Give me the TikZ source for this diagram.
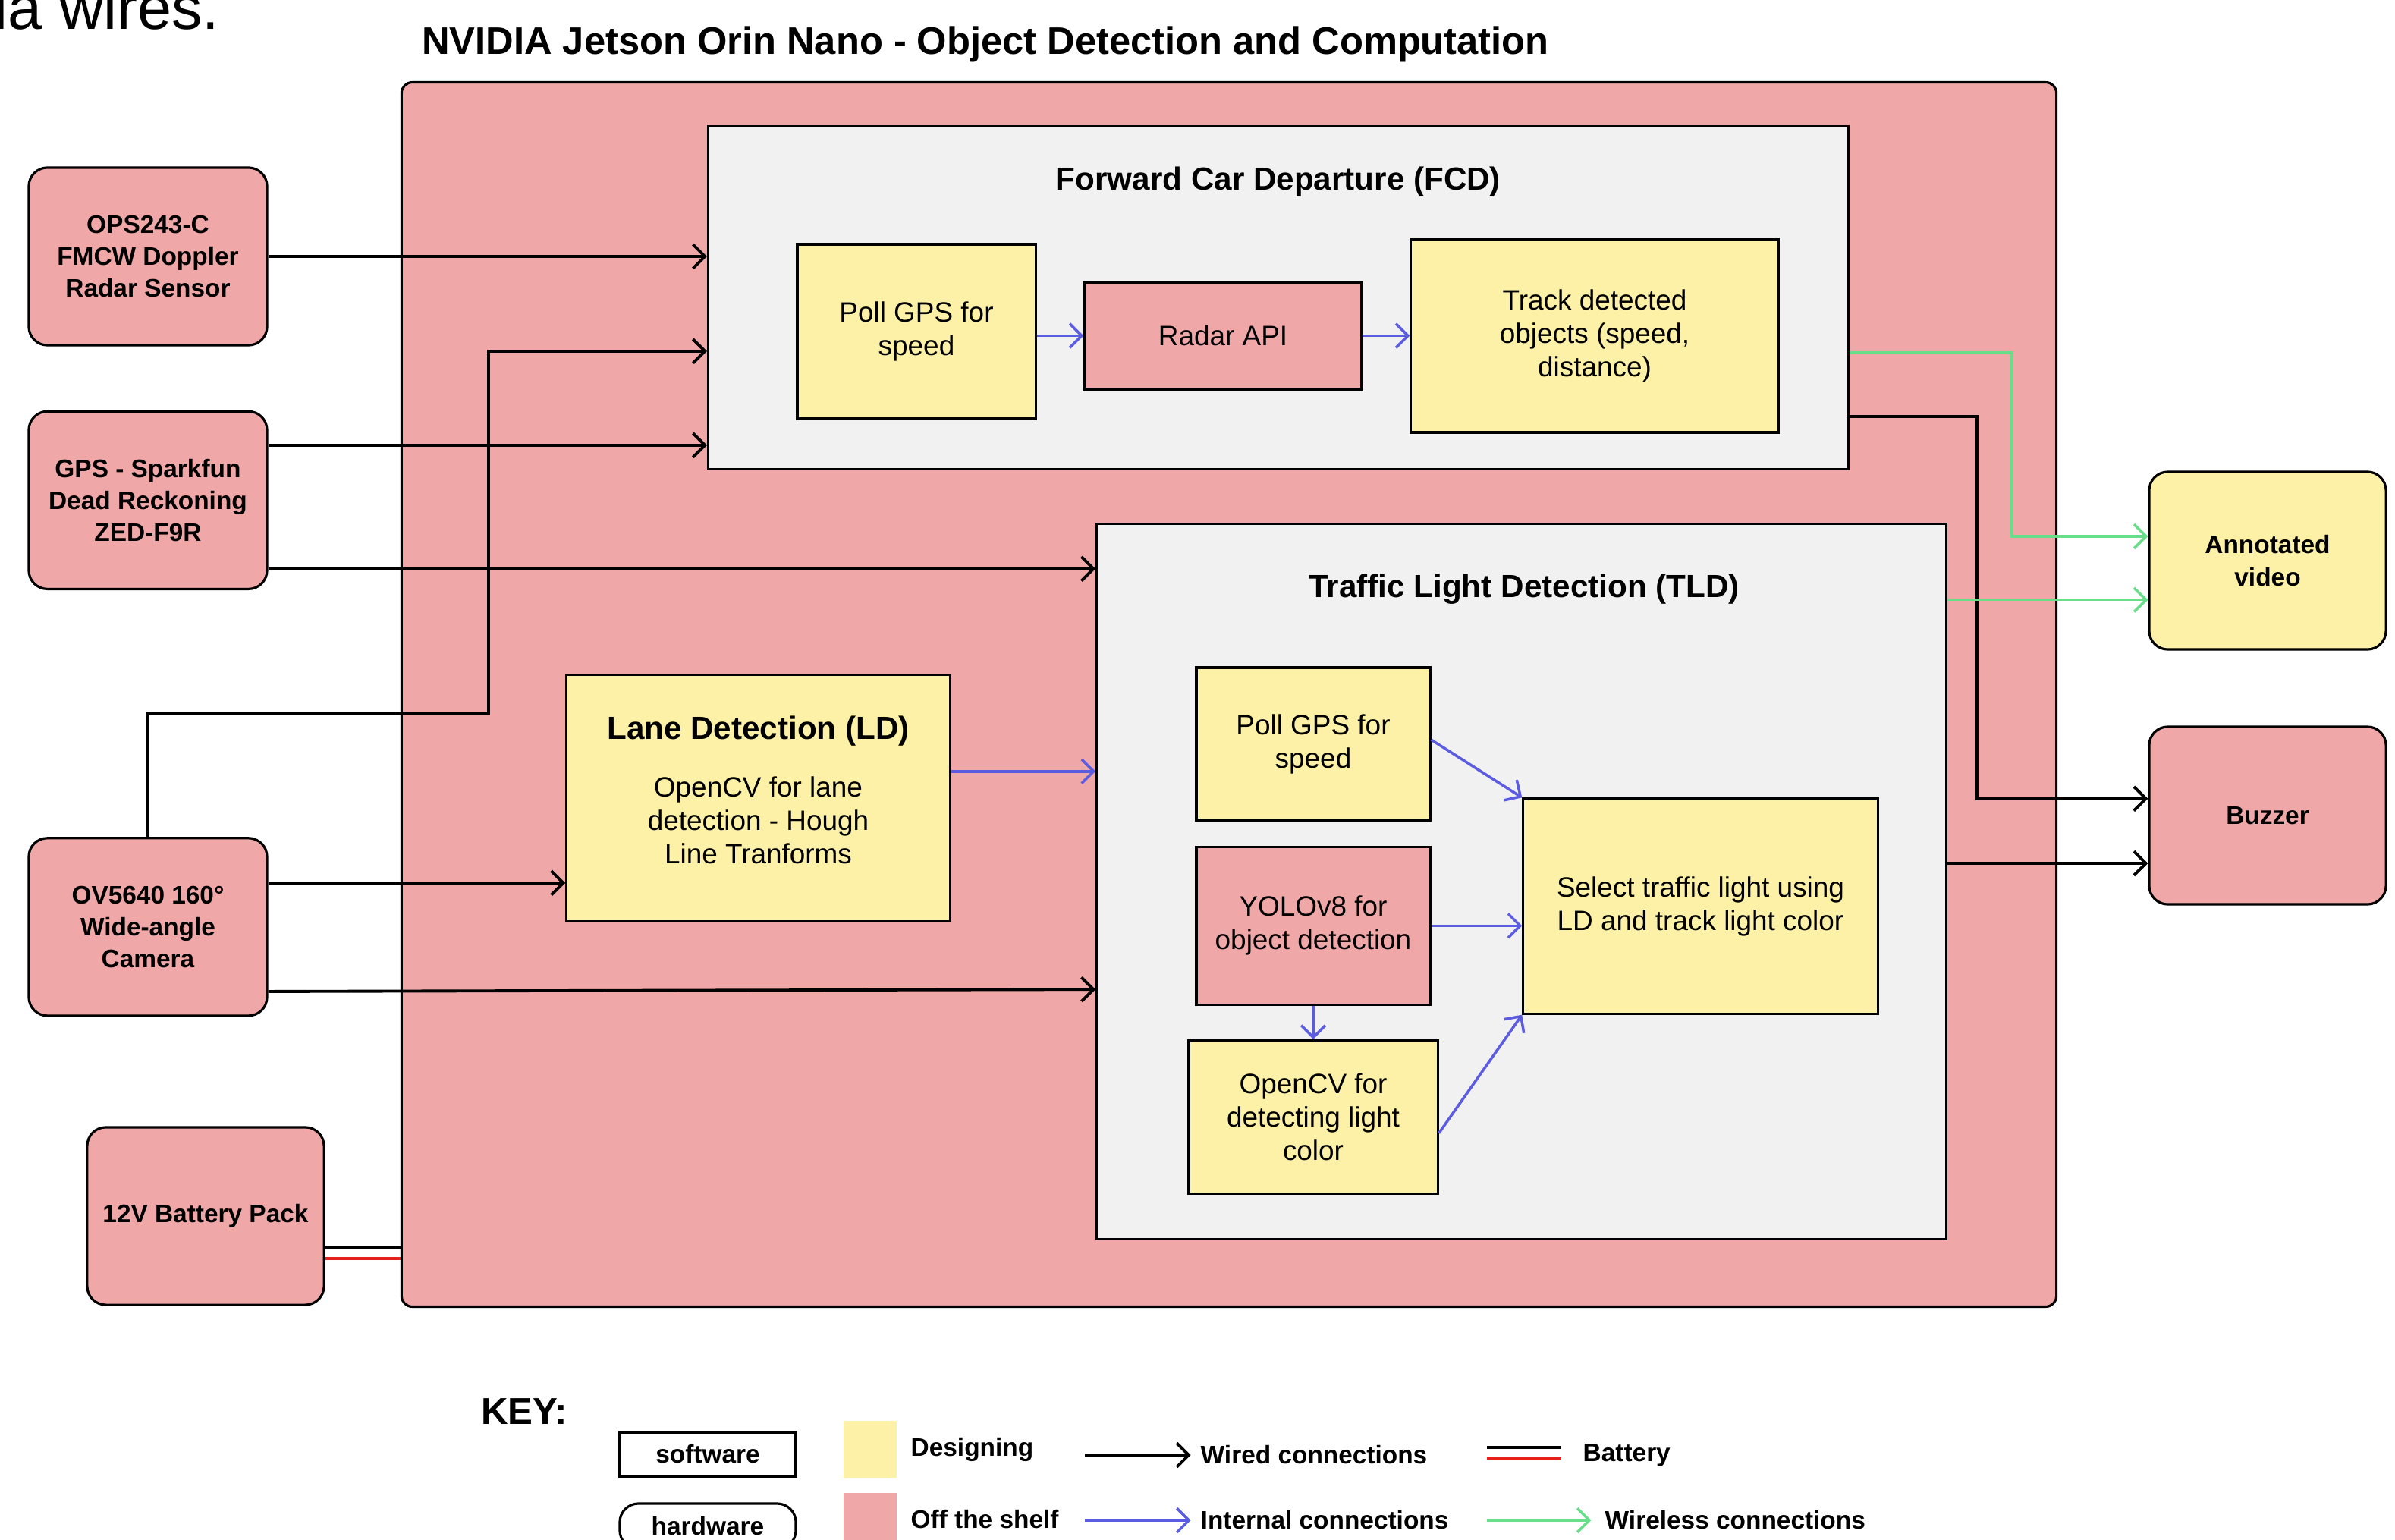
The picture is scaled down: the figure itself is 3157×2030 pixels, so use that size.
\documentclass[tikz,border=0pt]{standalone}
\usepackage{fontspec}
\setmainfont{Liberation Sans}
\usetikzlibrary{arrows.meta, positioning}
\definecolor{offshelf}{RGB}{239,168,167}
\definecolor{designing}{RGB}{253,241,167}
\definecolor{groupgrey}{RGB}{241,241,241}
\definecolor{internalblue}{RGB}{92,92,226}
\definecolor{wirelessgreen}{RGB}{104,222,138}
\definecolor{batteryred}{RGB}{232,32,28}
\tikzset{
  hardware/.style = {draw, line width=0.9pt, fill=offshelf, rounded corners=7pt,
                     align=center, font=\fontsize{9.5}{12}\selectfont\bfseries},
  software/.style = {draw, line width=0.9pt, fill=designing, align=center,
                     font=\fontsize{10.5}{12.5}\selectfont},
  bought/.style = {software, fill=offshelf},
  group/.style = {draw, line width=0.9pt, fill=groupgrey},
  group title/.style = {font=\fontsize{12}{14}\selectfont\bfseries},
  wired/.style = {line width=1.1pt, arrows={-Straight Barb[length=4.5pt, width=9pt]}},
  internal/.style = {wired, line width=1pt, internalblue},
  wireless/.style = {wired, line width=1pt, wirelessgreen},
  battery wire/.style = {line width=1pt},
  key text/.style = {anchor=west, inner sep=0pt, font=\fontsize{9.5}{11}\selectfont\bfseries},
}

\begin{document}
\begin{tikzpicture}[x=0.01cm, y=-0.01cm]
  \useasboundingbox (0,0) rectangle (3157,2030);
  \clip (0,0) rectangle (3157,2030);
  \fill [white] (0,0) rectangle (3157,2030);

  %% End of the text above the figure
  \node [anchor=base west, inner sep=0pt, font=\fontsize{23}{27}\selectfont]
        (pagetext) at (-8,38) {ia wires.};

  %% The Jetson board
  \node [draw, line width=0.9pt, fill=offshelf, rounded corners=4pt,
         minimum width=21.8cm, minimum height=16.13cm] (jetson) at (1620,915.5) {};
  \node [font=\fontsize{14.4}{17}\selectfont\bfseries] (title) at (1299,58)
        {NVIDIA Jetson Orin Nano - Object Detection and Computation};

  %% Forward Car Departure
  \node [group, minimum width=15.02cm, minimum height=4.51cm] (fcd) at (1685,392.5) {};
  \node [group title] (fcd_title) at (1685,240) {Forward Car Departure (FCD)};
  \node [software, minimum width=3.14cm, minimum height=2.3cm] (fcd_gps) at (1208,437)
        {Poll GPS for\\speed};
  \node [bought, minimum width=3.64cm, minimum height=1.41cm] (fcd_radar) at (1612,442.5)
        {Radar API};
  \node [software, minimum width=4.84cm, minimum height=2.54cm] (fcd_track) at (2102,443)
        {Track detected\\objects (speed,\\distance)};
  \draw [internal] (fcd_radar.west -| fcd_gps.east) -- (fcd_radar.west);
  \draw [internal] (fcd_radar.east) -- (fcd_radar.east -| fcd_track.west);

  %% Traffic Light Detection
  \node [group, minimum width=11.19cm, minimum height=9.42cm] (tld) at (2005.5,1162) {};
  \node [group title] (tld_title) at (2009,777) {Traffic Light Detection (TLD)};
  \node [software, minimum width=3.08cm, minimum height=2.01cm] (tld_gps) at (1731,980.5)
        {Poll GPS for\\speed};
  \node [bought, minimum width=3.08cm, minimum height=2.08cm, below=0.32cm of tld_gps]
        (tld_yolo) {YOLOv8 for\\object detection};
  \node [software, minimum width=3.28cm, minimum height=2.02cm, below=0.44cm of tld_yolo]
        (tld_color) {OpenCV for\\detecting light\\color};
  \node [software, minimum width=4.67cm, minimum height=2.83cm] (tld_select) at (2241.5,1194.5)
        {Select traffic light using\\LD and track light color};
  \draw [internal] ([yshift=1.5pt]tld_gps.east) -- (tld_select.north west);
  \draw [internal] (tld_yolo.east) -- (tld_yolo.east -| tld_select.west);
  \draw [internal] (tld_yolo) -- (tld_color);
  \draw [internal] ([yshift=-6pt]tld_color.east) -- (tld_select.south west);

  %% Lane Detection
  \node [software, minimum width=5.05cm, minimum height=3.24cm] (ld) at (999.5,1052) {};
  \node [align=center, font=\fontsize{10.5}{12.5}\selectfont, yshift=3pt] (ld_text) at (ld)
        {{\fontsize{12}{14}\selectfont\bfseries Lane Detection (LD)}\\[9pt]
         OpenCV for lane\\detection - Hough\\Line Tranforms};
  \draw [internal] ([yshift=10pt]ld.east) -- ([yshift=10pt]ld.east -| tld.west);

  %% Sensors and power
  \node [hardware, minimum width=3.14cm, minimum height=2.34cm] (radar) at (195,338)
        {OPS243-C\\FMCW Doppler\\Radar Sensor};
  \node [hardware, minimum width=3.14cm, minimum height=2.34cm, below=0.84cm of radar]
        (gps) {GPS - Sparkfun\\Dead Reckoning\\ZED-F9R};
  \node [hardware, minimum width=3.14cm, minimum height=2.34cm, below=3.25cm of gps]
        (camera) {OV5640 160°\\Wide-angle\\Camera};
  \node [hardware, minimum width=3.12cm, minimum height=2.34cm] (battery) at (271,1603)
        {12V Battery Pack};

  %% Outputs
  \node [hardware, fill=designing, minimum width=3.12cm, minimum height=2.34cm] (video)
        at (2989,739) {Annotated\\video};
  \node [hardware, minimum width=3.12cm, minimum height=2.34cm] (buzzer) at (2989,1075)
        {Buzzer};

  %% Inputs into the board
  \draw [wired] (radar.east) -- (radar.east -| fcd.west);
  \draw [wired] ([yshift=20.6pt]gps.east) -- ([yshift=20.6pt]gps.east -| fcd.west);
  \draw [wired] ([yshift=-25.7pt]gps.east) -- ([yshift=-25.7pt]gps.east -| tld.west);
  \coordinate (cam_bend) at (644,940);
  \draw [wired] (camera.north) |- (cam_bend) |- ([yshift=-20pt]fcd.west);
  \draw [wired] ([yshift=16.5pt]camera.east) -- ([yshift=16.5pt]camera.east -| ld.west);
  \draw [wired] ([yshift=-24.2pt]camera.east) -- ([yshift=-23.4pt]camera.east -| tld.west);
  \draw [battery wire] ([yshift=-11.7pt]battery.east) -- ([yshift=-11.7pt]battery.east -| jetson.west);
  \draw [battery wire, batteryred] ([yshift=-15.9pt]battery.east)
        -- ([yshift=-15.9pt]battery.east -| jetson.west);

  %% Outputs from the board
  \draw [wired] ([yshift=-44.5pt]fcd.east) -- ++(168,0) |- ([yshift=6.3pt]buzzer.west);
  \draw [wired] ([yshift=6.8pt]tld.east) -- ([yshift=6.8pt]tld.east -| buzzer.west);
  \draw [wireless] ([yshift=-20.6pt]fcd.east) -- ++(214,0) |- ([yshift=9.1pt]video.west);
  \draw [wireless] ([yshift=105.6pt]tld.east) -- ([yshift=105.6pt]tld.east -| video.west);

  %% Key
  \node [font=\fontsize{14}{16}\selectfont\bfseries] (key) at (691,1861) {KEY:};
  \node [draw, line width=0.9pt, minimum width=2.32cm, minimum height=0.58cm,
         font=\fontsize{9.5}{11}\selectfont\bfseries] (key_sw) at (933,1917) {software};
  \node [draw, line width=0.9pt, rounded corners=7pt, minimum width=2.32cm, minimum height=0.6cm,
         font=\fontsize{9.5}{11}\selectfont\bfseries] (key_hw) at (933,2012) {hardware};
  \node [fill=designing, minimum width=0.7cm, minimum height=0.75cm] (key_yellow) at (1147,1910.5) {};
  \node [fill=offshelf, minimum width=0.7cm, minimum height=0.75cm] (key_pink) at (1147,2005.5) {};
  \node [key text] (key_design) at (1200,1911) {Designing};
  \node [key text] (key_shelf) at (1200,2003) {Off the shelf};

  \coordinate (key_wired) at (1430,1918);
  \node [key text] (key_wired_txt) at (1582,1918) {Wired connections};
  \draw [wired, shorten >=3.5pt] (key_wired) -- (key_wired_txt.west);
  \coordinate (key_internal) at (1430,2004);
  \node [key text] (key_internal_txt) at (1582,2004) {Internal connections};
  \draw [internal, shorten >=3.5pt] (key_internal) -- (key_internal_txt.west);

  \coordinate (key_black) at (1960,1908);
  \coordinate (key_red) at (1960,1923);
  \draw [battery wire] (key_black) -- ++(98,0);
  \draw [battery wire, batteryred] (key_red) -- ++(98,0);
  \node [key text] (key_battery) at (2086,1918) {Battery};
  \coordinate (key_wireless) at (1960,2004);
  \node [key text] (key_wireless_txt) at (2115,2004) {Wireless connections};
  \draw [wireless, shorten >=5pt] (key_wireless) -- (key_wireless_txt.west);
\end{tikzpicture}
\end{document}
